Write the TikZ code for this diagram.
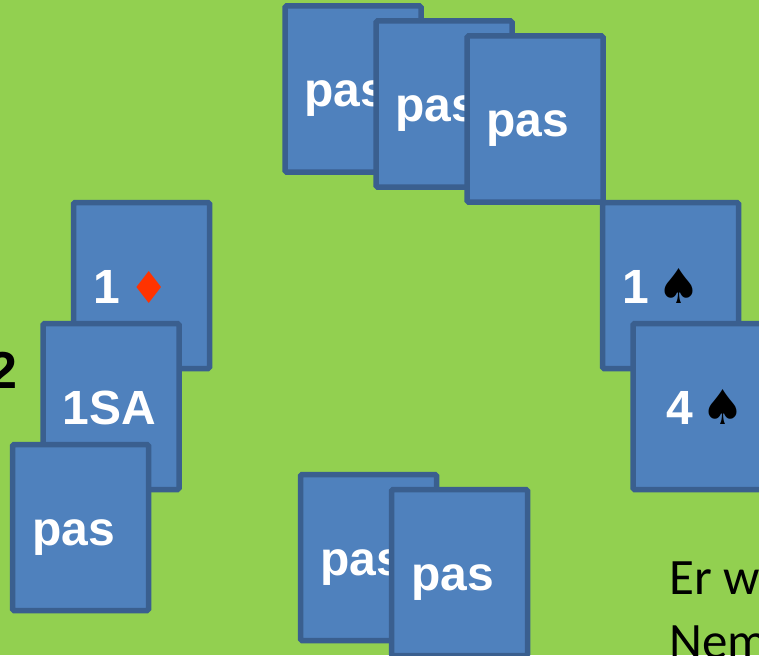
\documentclass[tikz,border=0pt]{standalone}
\usepackage{fontspec}
\setmainfont{Liberation Sans}
\newfontfamily\suitfont{DejaVu Sans}
\newfontfamily\notefont{Carlito}
\usepackage{tikz}
\usetikzlibrary{positioning}
\definecolor{slidegreen}{HTML}{92D050}
\definecolor{cardblue}{HTML}{4F81BD}
\definecolor{cardline}{HTML}{3A5F8F}
\definecolor{suitred}{HTML}{FF3300}
\tikzstyle{card} = [rectangle, rounded corners=1.5pt, minimum width=136pt, minimum height=166pt, inner sep=0pt, draw=cardline, line width=5.5pt, fill=cardblue, text=white, text width=97pt, align=left, text height=36pt, text depth=0pt, font=\fontsize{48}{48}\selectfont\bfseries]
\tikzstyle{note} = [inner sep=0pt, anchor=base west, font=\fontsize{51}{51}\notefont]
\newcommand{\diamondmark}{{\suitfont\fontsize{44}{44}\selectfont\mdseries\textcolor{suitred}{♦}}}
\newcommand{\spademark}{{\suitfont\fontsize{48}{48}\selectfont\mdseries\textcolor{black}{♠}}}

\begin{document}
\begin{tikzpicture}[x=1pt, y=-1pt, on grid]
        \useasboundingbox (0,0) rectangle (759,655);
        \clip (0,0) rectangle (759,655);
        \fill [slidegreen] (0,0) rectangle (759,655);

        \node (two) [inner sep=0pt, anchor=base east, font=\fontsize{52}{52}\selectfont\bfseries] at (18,388) {2};

        \node (north1) [card] at (353,89) {pas};
        \node (north2) [card, right = 91pt of north1, yshift=-15pt] {pas};
        \node (north3) [card, right = 91pt of north2, yshift=-15pt] {pas};

        \node (west1) [card] at (141.5,285.5) {1\hspace{10pt}\diamondmark};
        \node (west2) [card, below = 121pt of west1, xshift=-30.5pt] {1SA};
        \node (west3) [card, below = 121pt of west2, xshift=-30.5pt] {pas};

        \node (east1) [card] at (670.5,285.5) {1\hspace{9pt}\spademark};
        \node (east2) [card, below = 121pt of east1, xshift=30.5pt] {\hspace{14pt}4\hspace{8pt}\spademark};

        \node (south1) [card] at (368.5,557.5) {pas};
        \node (south2) [card, right = 91pt of south1, yshift=-15pt] {pas};

        \node (note1) [note] at (669,594) {Er w};
        \node (note2) [note] at (669,658) {Nem};
    \end{tikzpicture}
\end{document}
